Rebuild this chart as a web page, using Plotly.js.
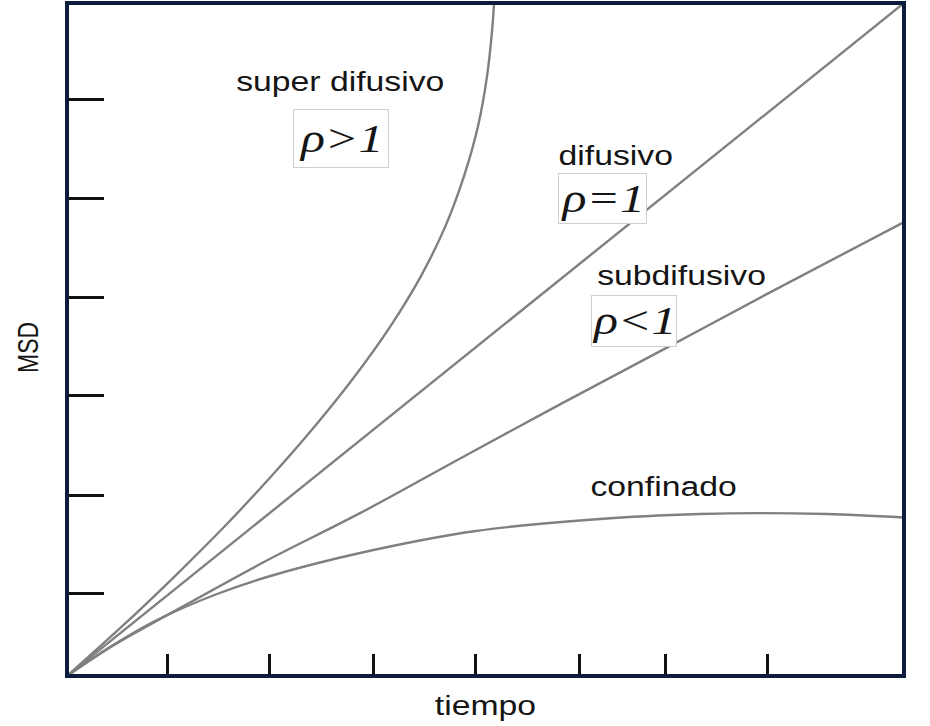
<!DOCTYPE html>
<html>
<head>
<meta charset="utf-8">
<script src="https://cdn.plot.ly/plotly-3.0.1.min.js"></script>
<style>
  html, body { margin: 0; padding: 0; background: #ffffff; }
  #chart { width: 930px; height: 726px; }
</style>
</head>
<body>
<div id="chart"></div>
<script>
// Regímenes de difusión: MSD frente al tiempo
const tiempoSuper = [0, 0.542, 1.054, 1.542, 1.996, 2.421, 2.811, 3.158, 3.455, 3.694, 3.875, 4.012, 4.100, 4.153, 4.168];
const msdSuper    = [0, 0.507, 1.013, 1.520, 2.026, 2.533, 3.040, 3.546, 4.053, 4.559, 5.066, 5.572, 6.079, 6.586, 6.819];

const tiempoDifusivo = [0, 8.17];
const msdDifusivo    = [0, 6.82];

const tiempoSub = [0, 0.42, 1.07, 1.95, 2.86, 3.90, 4.88, 5.86, 6.83, 8.17];
const msdSub    = [0, 0.29, 0.67, 1.17, 1.65, 2.24, 2.79, 3.33, 3.87, 4.60];

const tiempoConf = [0, 0.42, 0.878, 1.464, 1.952, 2.860, 3.992, 5.203, 6.179, 6.764, 7.418, 8.17];
const msdConf    = [0, 0.294, 0.567, 0.831, 1.003, 1.246, 1.469, 1.591, 1.641, 1.651, 1.641, 1.606];

const xTicks = [0.985, 1.98, 2.99, 3.99, 5.0, 5.84, 6.84];
const yTicks = [0.84, 1.83, 2.84, 3.84, 4.84, 5.84];

const curveLine = { color: '#808080', width: 2.4, shape: 'spline', smoothing: 1 };
const sans = 'Liberation Sans, Arial, Helvetica, sans-serif';
const serif = 'Liberation Serif, Times New Roman, serif';
const ink = '#151515';

function curve(x, y, name) {
  return { x: x, y: y, name: name, type: 'scatter', mode: 'lines', line: curveLine, hoverinfo: 'skip' };
}

const data = [
  curve(tiempoSuper, msdSuper, 'super difusivo'),
  curve(tiempoDifusivo, msdDifusivo, 'difusivo'),
  curve(tiempoSub, msdSub, 'subdifusivo'),
  curve(tiempoConf, msdConf, 'confinado')
];

function label(text, x, y) {
  return { text: text, x: x, y: y, xref: 'paper', yref: 'paper', showarrow: false,
           xanchor: 'center', yanchor: 'middle', font: { family: sans, size: 27, color: ink } };
}
function rho(text, x, y, w, h) {
  return { text: text, x: x, y: y, xref: 'paper', yref: 'paper', showarrow: false,
           xanchor: 'center', yanchor: 'middle', width: w, height: h, borderpad: 0,
           bordercolor: '#cfcfcf', borderwidth: 1, bgcolor: '#ffffff',
           font: { family: serif, size: 40, style: 'italic', color: ink } };
}

const layout = {
  width: 930, height: 726,
  margin: { l: 67, r: 26, t: 3, b: 50, pad: 0 },
  paper_bgcolor: '#ffffff', plot_bgcolor: '#ffffff',
  showlegend: false,
  xaxis: {
    range: [0, 8.17], showgrid: false, zeroline: false, showline: false,
    tickmode: 'array', tickvals: xTicks, showticklabels: false,
    ticks: 'inside', ticklen: 22, tickwidth: 3, tickcolor: '#111111',
    title: { text: 'tiempo', standoff: 20, font: { family: sans, size: 27, color: ink } },
    fixedrange: true
  },
  yaxis: {
    range: [0, 6.82], showgrid: false, zeroline: false, showline: false,
    tickmode: 'array', tickvals: yTicks, showticklabels: false,
    ticks: 'inside', ticklen: 37, tickwidth: 3, tickcolor: '#111111',
    fixedrange: true
  },
  shapes: [
    { type: 'rect', xref: 'paper', yref: 'paper', x0: 0, x1: 1, y0: 0, y1: 1,
      line: { color: '#0d1b3d', width: 4 }, layer: 'above' }
  ],
  annotations: [
    { text: 'MSD', x: -0.0466, y: 0.489, xref: 'paper', yref: 'paper', showarrow: false,
      textangle: -90, xanchor: 'center', yanchor: 'middle',
      font: { family: sans, size: 23, color: ink } },
    label('super difusivo', 0.327, 0.883),
    rho('ρ&gt;1', 0.327, 0.799, 94, 57),
    label('difusivo', 0.656, 0.773),
    rho('ρ=1', 0.640, 0.709, 87, 49),
    label('subdifusivo', 0.734, 0.594),
    rho('ρ&lt;1', 0.677, 0.527, 84, 50),
    label('confinado', 0.713, 0.281)
  ]
};

// The lettering in this figure is set slightly wide: widen each text element along the
// screen's horizontal direction about its own centre, leaving boxes and lines untouched.
const STRETCH_X = 1.25;
function widenText(gd) {
  const svg = gd.querySelector('svg.main-svg');
  const nodes = gd.querySelectorAll('text.annotation-text, text.xtitle, text.ytitle');
  nodes.forEach(function (el) {
    const P = el.parentNode.getScreenCTM();
    if (!P) return;
    const r = el.getBoundingClientRect();
    const cx = r.left + r.width / 2, cy = r.top + r.height / 2;
    const S = svg.createSVGMatrix().translate(cx, cy).scaleNonUniform(STRETCH_X, 1).translate(-cx, -cy);
    const M = P.inverse().multiply(S).multiply(P);
    const prev = el.getAttribute('transform') || '';
    el.setAttribute('transform',
      'matrix(' + [M.a, M.b, M.c, M.d, M.e, M.f].join(',') + ') ' + prev);
  });
}

Plotly.newPlot('chart', data, layout, { displayModeBar: false, staticPlot: true })
  .then(function (gd) { widenText(gd); });
</script>
</body>
</html>
